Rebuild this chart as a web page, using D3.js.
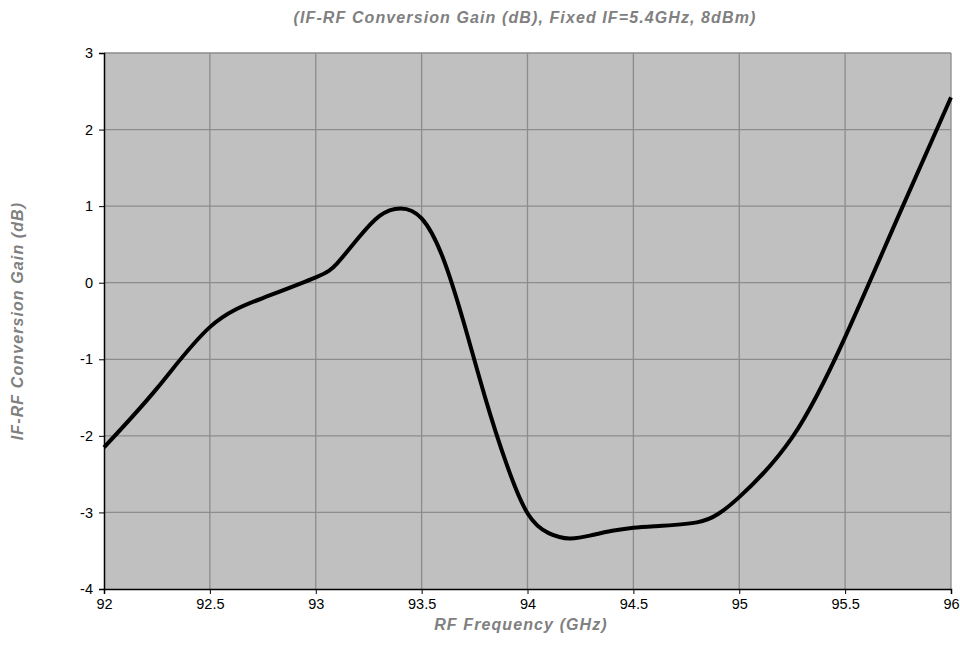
<!DOCTYPE html>
<html>
<head>
  <meta charset="utf-8" />
  <title>IF-RF Conversion Gain</title>
  <style>
    body { margin: 0; background: #fff; }
  </style>
  <script src="https://cdnjs.cloudflare.com/ajax/libs/d3/7.8.5/d3.min.js"></script>
</head>
<body>
  <div id="chart"></div>
  <script>
    // RF frequency (GHz) and gain (dB)
    var freq = [92, 92.25, 92.5, 92.75, 93, 93.1, 93.2, 93.3, 93.4, 93.5, 93.6, 93.7, 93.8, 93.9,
                94, 94.1, 94.2, 94.3, 94.4, 94.5, 94.6, 94.8, 94.9, 95, 95.25, 95.5, 95.75, 96];
    var gain = [-2.15, -1.38, -0.58, -0.2, 0.07, 0.25, 0.58, 0.87, 0.97, 0.84, 0.33, -0.53, -1.5, -2.36,
                -3.01, -3.27, -3.34, -3.3, -3.24, -3.2, -3.18, -3.13, -3.02, -2.8, -2.02, -0.71, 0.86, 2.42];
    var xTicks = [92, 92.5, 93, 93.5, 94, 94.5, 95, 95.5, 96];
    var yTicks = [-4, -3, -2, -1, 0, 1, 2, 3];

    var W = 960, H = 655;
    var m = { left: 104, top: 53, right: 9, bottom: 66 };
    var w = W - m.left - m.right, h = H - m.top - m.bottom;
    var font = '"Liberation Sans", Arial, sans-serif';

    var x = d3.scaleLinear().domain([92, 96]).range([0, w]);
    var y = d3.scaleLinear().domain([-4, 3]).range([h, 0]);

    var svg = d3.select('#chart').append('svg')
      .attr('width', W).attr('height', H);
    var g = svg.append('g').attr('transform', 'translate(' + m.left + ',' + m.top + ')');

    g.append('rect').attr('width', w).attr('height', h).attr('fill', '#c0c0c0');

    // grid
    g.selectAll('.vgrid').data(xTicks.slice(1)).enter().append('line')
      .attr('x1', d => x(d)).attr('x2', d => x(d)).attr('y1', 0).attr('y2', h)
      .attr('stroke', '#8c8c8c').attr('stroke-width', 1.3);
    g.selectAll('.hgrid').data(yTicks.slice(1)).enter().append('line')
      .attr('x1', 0).attr('x2', w).attr('y1', d => y(d)).attr('y2', d => y(d))
      .attr('stroke', '#8c8c8c').attr('stroke-width', 1.3);

    // axes
    var xAxis = g.append('g').attr('transform', 'translate(0,' + h + ')')
      .call(d3.axisBottom(x).tickValues(xTicks).tickSize(5).tickPadding(5).tickFormat(d => String(d)));
    var yAxis = g.append('g')
      .call(d3.axisLeft(y).tickValues(yTicks).tickSize(5).tickPadding(6).tickFormat(d => String(d)));
    [xAxis, yAxis].forEach(function (a) {
      a.attr('font-family', font).attr('font-size', 14.5);
      a.select('.domain').attr('stroke', '#000').attr('stroke-width', 1.5);
      a.selectAll('.tick line').attr('stroke', '#000');
      a.selectAll('.tick text').attr('fill', '#000');
    });

    var line = d3.line()
      .x((d, i) => x(freq[i]))
      .y(d => y(d))
      .curve(d3.curveNatural);
    g.append('path').datum(gain)
      .attr('d', line)
      .attr('fill', 'none')
      .attr('stroke', '#000')
      .attr('stroke-width', 4);

    function title(t) {
      return t.attr('font-family', font).attr('font-size', 16)
        .attr('font-weight', 'bold').attr('font-style', 'italic')
        .attr('letter-spacing', 1.1).attr('fill', '#808080')
        .attr('text-anchor', 'middle');
    }
    title(svg.append('text').attr('x', 525).attr('y', 23))
      .text('(IF-RF Conversion Gain (dB), Fixed IF=5.4GHz, 8dBm)');
    title(svg.append('text').attr('x', 521).attr('y', 630))
      .text('RF Frequency (GHz)');
    title(svg.append('text').attr('transform', 'translate(23,' + (m.top + h / 2) + ') rotate(-90)'))
      .text('IF-RF Conversion Gain (dB)');
  </script>
</body>
</html>
